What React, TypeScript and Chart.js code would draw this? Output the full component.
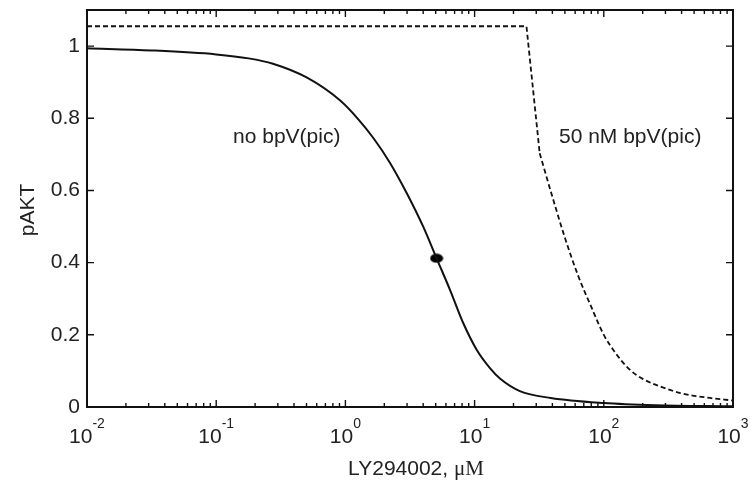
import React, { useEffect, useRef } from "react";
import { Chart, registerables } from "chart.js";

Chart.register(...registerables);

// ---- data ----
const noBpvX = [0.01, 0.0316, 0.1, 0.178, 0.275, 0.501, 0.912, 1.259, 1.64, 2.21, 2.98, 4.01, 5.08, 6.46, 8.18, 10.4, 13.2, 15.8, 22.4, 38.9, 100, 251, 1000];
const noBpvY = [0.994, 0.988, 0.977, 0.966, 0.951, 0.913, 0.849, 0.797, 0.746, 0.677, 0.593, 0.499, 0.412, 0.324, 0.232, 0.158, 0.107, 0.078, 0.044, 0.025, 0.011, 0.005, 0.002];

// flat part and steep first drop of the 50 nM curve
const bpv50TopX = [0.01, 25.2, 31.9];
const bpv50TopY = [1.055, 1.055, 0.703];
// smooth tail of the 50 nM curve
const bpv50TailX = [31.9, 39.8, 50.1, 63.1, 79.4, 100, 126, 158, 200, 282, 398, 631, 1000];
const bpv50TailY = [0.703, 0.585, 0.468, 0.365, 0.28, 0.2, 0.145, 0.104, 0.078, 0.055, 0.038, 0.026, 0.018];

const markerX = [5.08];
const markerY = [0.412];

const xDecades = [0.01, 0.1, 1, 10, 100, 1000];
const xExponents = ["-2", "-1", "0", "1", "2", "3"];
const yTicks = [0, 0.2, 0.4, 0.6, 0.8, 1];
const yTickLabels = ["0", "0.2", "0.4", "0.6", "0.8", "1"];

const SANS = "'Liberation Sans', Arial, sans-serif";
const SERIF = "'Liberation Serif', 'Times New Roman', serif";
const TEXT = "#222";

function makeEllipse(): HTMLCanvasElement {
  const c = document.createElement("canvas");
  c.width = 14;
  c.height = 10;
  const g = c.getContext("2d")!;
  g.fillStyle = "#000";
  g.beginPath();
  g.ellipse(7, 5, 6.5, 4.5, 0, 0, Math.PI * 2);
  g.fill();
  return c;
}

const framePlugin = {
  id: "framePlugin",
  afterDraw(chart: any) {
    const ctx: CanvasRenderingContext2D = chart.ctx;
    const { left, right, top, bottom } = chart.chartArea;
    const xs = chart.scales.x;
    const ys = chart.scales.y;
    ctx.save();
    ctx.strokeStyle = "#111";
    ctx.lineWidth = 2;
    ctx.strokeRect(left, top, right - left, bottom - top);

    // x ticks (major + minor), inward on bottom and top
    ctx.lineWidth = 1.4;
    ctx.beginPath();
    xDecades.forEach((d, i) => {
      const px = xs.getPixelForValue(d);
      ctx.moveTo(px, bottom);
      ctx.lineTo(px, bottom - 7);
      ctx.moveTo(px, top);
      ctx.lineTo(px, top + 7);
      if (i < xDecades.length - 1) {
        for (let m = 2; m <= 9; m++) {
          const mx = xs.getPixelForValue(d * m);
          ctx.moveTo(mx, bottom);
          ctx.lineTo(mx, bottom - 4);
          ctx.moveTo(mx, top);
          ctx.lineTo(mx, top + 4);
        }
      }
    });
    // y ticks, inward on left and right
    yTicks.forEach((v) => {
      const py = ys.getPixelForValue(v);
      ctx.moveTo(left, py);
      ctx.lineTo(left + 7, py);
      ctx.moveTo(right, py);
      ctx.lineTo(right - 7, py);
    });
    ctx.stroke();

    // x tick labels with exponents
    ctx.fillStyle = TEXT;
    ctx.textBaseline = "alphabetic";
    ctx.textAlign = "left";
    xDecades.forEach((d, i) => {
      const px = xs.getPixelForValue(d);
      ctx.font = `21px ${SANS}`;
      const wb = ctx.measureText("10").width;
      ctx.font = `14px ${SANS}`;
      const we = ctx.measureText(xExponents[i]).width;
      const x0 = px - (wb + we) / 2;
      ctx.font = `21px ${SANS}`;
      ctx.fillText("10", x0, 443);
      ctx.font = `14px ${SANS}`;
      ctx.fillText(xExponents[i], x0 + wb, 428);
    });

    // x title
    ctx.font = `21px ${SANS}`;
    const t1 = "LY294002, ";
    const w1 = ctx.measureText(t1).width;
    ctx.font = `21px ${SERIF}`;
    const t2 = "\u03bcM";
    const w2 = ctx.measureText(t2).width;
    const xt0 = 416 - (w1 + w2) / 2;
    ctx.font = `21px ${SANS}`;
    ctx.fillText(t1, xt0, 475);
    ctx.font = `21px ${SERIF}`;
    ctx.fillText(t2, xt0 + w1, 475);

    // y title
    ctx.save();
    ctx.translate(28, 210);
    ctx.rotate(-Math.PI / 2);
    ctx.textAlign = "center";
    ctx.textBaseline = "middle";
    ctx.font = `21px ${SANS}`;
    ctx.fillText("pAKT", 0, 0);
    ctx.restore();

    // curve annotations
    ctx.font = `21px ${SANS}`;
    ctx.textAlign = "left";
    ctx.textBaseline = "alphabetic";
    ctx.fillText("no bpV(pic)", xs.getPixelForValue(0.135), ys.getPixelForValue(0.731));
    ctx.fillText("50 nM bpV(pic)", xs.getPixelForValue(45), ys.getPixelForValue(0.731));
    ctx.restore();
  },
};

export default function App() {
  const ref = useRef<HTMLCanvasElement | null>(null);

  useEffect(() => {
    if (!ref.current) return;
    const ellipse = makeEllipse();
    const chart = new Chart(ref.current, {
      type: "line",
      data: {
        datasets: [
          {
            label: "no bpV(pic)",
            data: noBpvX.map((x, i) => ({ x, y: noBpvY[i] })),
            borderColor: "#111",
            borderWidth: 2,
            pointRadius: 0,
            fill: false,
            cubicInterpolationMode: "monotone",
          },
          {
            label: "50 nM bpV(pic) top",
            data: bpv50TopX.map((x, i) => ({ x, y: bpv50TopY[i] })),
            borderColor: "#111",
            borderWidth: 1.8,
            borderDash: [5, 3],
            pointRadius: 0,
            fill: false,
            tension: 0,
          },
          {
            label: "50 nM bpV(pic)",
            data: bpv50TailX.map((x, i) => ({ x, y: bpv50TailY[i] })),
            borderColor: "#111",
            borderWidth: 1.8,
            borderDash: [5, 3],
            pointRadius: 0,
            fill: false,
            cubicInterpolationMode: "monotone",
          },
          {
            label: "marker",
            data: markerX.map((x, i) => ({ x, y: markerY[i] })),
            showLine: false,
            pointStyle: ellipse as any,
            pointRadius: 6,
            borderWidth: 0,
          },
        ],
      },
      options: {
        responsive: false,
        animation: false,
        layout: { padding: { top: 10, right: 18, left: 0, bottom: 0 } },
        plugins: {
          legend: { display: false },
          tooltip: { enabled: false },
        },
        scales: {
          x: {
            type: "logarithmic",
            min: 0.01,
            max: 1000,
            position: "bottom",
            grid: { display: false, drawTicks: false },
            border: { display: false },
            ticks: { display: false },
            afterFit: (s: any) => {
              s.height = 83;
              s.paddingLeft = 0;
              s.paddingRight = 0;
            },
          },
          y: {
            type: "linear",
            min: 0,
            max: 1.1,
            grid: { display: false, drawTicks: false },
            border: { display: false },
            afterBuildTicks: (s: any) => {
              s.ticks = yTicks.map((v) => ({ value: v }));
            },
            ticks: {
              padding: 7,
              color: TEXT,
              font: { family: SANS, size: 21 },
              callback: (_v: any, i: number) => yTickLabels[i],
            },
            afterFit: (s: any) => {
              s.width = 87;
              s.paddingTop = 0;
              s.paddingBottom = 0;
            },
          },
        },
      },
      plugins: [framePlugin],
    });
    return () => chart.destroy();
  }, []);

  return (
    <div style={{ position: "fixed", left: 0, top: 0, width: 751, height: 490, background: "#fff" }}>
      <canvas ref={ref} width={751} height={490} style={{ display: "block" }} />
    </div>
  );
}
